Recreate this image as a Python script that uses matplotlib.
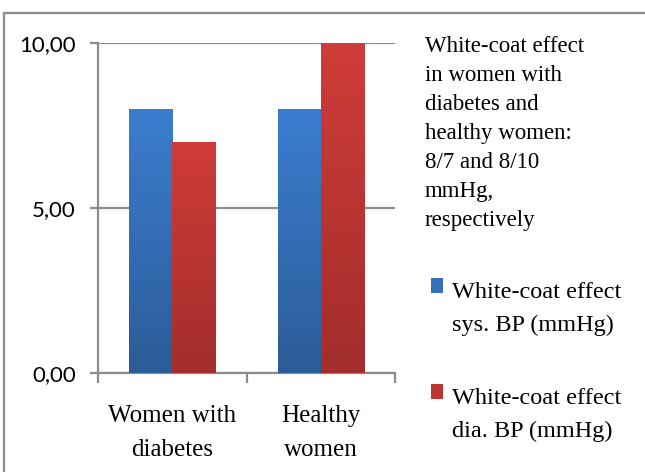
import numpy as np
import matplotlib.pyplot as plt
from matplotlib.patches import Rectangle
from matplotlib.colors import LinearSegmentedColormap

# data
groups = ['Women with\ndiabetes', 'Healthy\nwomen']
sys_bp = [8, 8]
dia_bp = [7, 10]
series_names = ['White-coat effect\nsys. BP (mmHg)', 'White-coat effect\ndia. BP (mmHg)']
note = ('White-coat effect\nin women with\ndiabetes and\nhealthy women:\n'
        '8/7 and 8/10\nmmHg,\nrespectively')
yticks = [0, 5, 10]
ytick_labels = ['0,00', '5,00', '10,00']

W, H = 645, 472
fig = plt.figure(figsize=(W / 100, H / 100), dpi=100)
ax = fig.add_axes([98 / W, 1 - 373 / H, (395 - 98) / W, (373 - 43) / H])

# outer chart frame (cut off on the right and bottom)
fig.patches.append(Rectangle((4 / W, -0.1), 1.2, 1 - 13 / H + 0.1, transform=fig.transFigure,
                             fill=False, edgecolor='#8c8c8c', linewidth=1.6))

grey = '#8c8c8c'
blue_top, blue_bot = '#3b7dcf', '#2c5c98'
red_top, red_bot = '#d03c39', '#a22d2b'

x = np.arange(len(groups))
bw = 0.29
b1 = ax.bar(x - bw / 2, sys_bp, bw, color=blue_top, zorder=3)
b2 = ax.bar(x + bw / 2, dia_bp, bw, color=red_top, zorder=3)

# vertical gradient on each bar
grad = np.linspace(1, 0, 256).reshape(-1, 1)
for bars, top, bot in [(b1, blue_top, blue_bot), (b2, red_top, red_bot)]:
    cmap = LinearSegmentedColormap.from_list('g', [bot, top])
    for r in bars:
        ax.imshow(grad, extent=[r.get_x(), r.get_x() + r.get_width(), 0, r.get_height()],
                  cmap=cmap, aspect='auto', zorder=4, vmin=0, vmax=1)

ax.set_xlim(-0.5, 1.5)
ax.set_ylim(0, 10)
ax.set_yticks(yticks)
ax.set_yticklabels(ytick_labels, fontfamily='Lato', fontsize=16)
ax.yaxis.grid(True, color=grey, linewidth=1.6, zorder=0)
ax.tick_params(axis='y', length=6, width=1.6, color=grey, pad=10)

# category boundaries as major ticks, labels on minor ticks
ax.set_xticks([-0.5, 0.5, 1.5])
ax.set_xticklabels([])
ax.set_xticks(x, minor=True)
ax.set_xticklabels(groups, minor=True, fontfamily='Liberation Serif', fontsize=18,
                   linespacing=1.72)
ax.tick_params(axis='x', which='major', length=7, width=1.6, color=grey)
ax.tick_params(axis='x', which='minor', length=0, pad=23)

for s in ['top', 'right']:
    ax.spines[s].set_visible(False)
for s in ['left', 'bottom']:
    ax.spines[s].set_color(grey)
    ax.spines[s].set_linewidth(1.6)

# note text on the right
fig.text(425 / W, 1 - 36 / H, note, fontfamily='Liberation Serif', fontsize=16.5,
         va='top', ha='left', linespacing=1.5)

# legend drawn by hand so the marker sits on the first line
legend_tops = [282, 388]
for name, col, yt in zip(series_names, ['#3570b8', '#bc3533'], legend_tops):
    fig.patches.append(Rectangle((431 / W, 1 - (yt + 11) / H), 12 / W, 15 / H,
                                 transform=fig.transFigure, facecolor=col, edgecolor='none'))
    fig.text(452 / W, 1 - yt / H, name, fontfamily='Liberation Serif', fontsize=17.5,
             va='top', ha='left', linespacing=1.75)

fig.savefig('out.png', dpi=100)
